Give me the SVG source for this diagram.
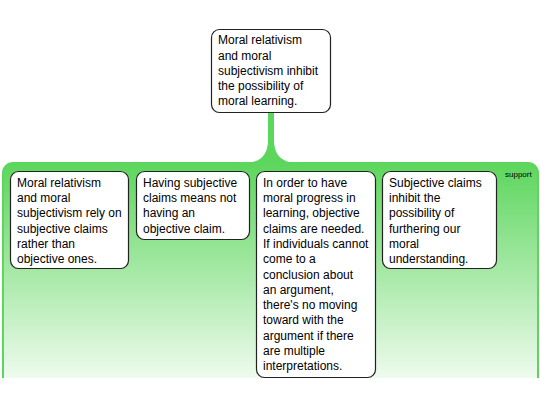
<svg xmlns="http://www.w3.org/2000/svg" width="540" height="405" viewBox="0 0 540 405">
<defs>
<linearGradient id="g" x1="0" y1="0" x2="0" y2="1">
<stop offset="0" stop-color="#5cd65c"/>
<stop offset="1" stop-color="#ffffff"/>
</linearGradient>
<clipPath id="c"><rect x="0" y="0" width="540" height="378"/></clipPath>
<style>
.n{fill:#fff;stroke:#222;stroke-width:1.2}
text{font-family:"Liberation Sans",Arial,sans-serif;font-size:12px;fill:#000}
.s{font-size:8px}
</style>
</defs>
<rect width="540" height="405" fill="#fff"/>
<g id="support-region" clip-path="url(#c)">
<rect x="3" y="163" width="535" height="240" rx="10" fill="url(#g)" stroke="#5cd65c" stroke-width="2"/>
<text class="s" x="505" y="177">support</text>
</g>
<g id="connectors">
<path d="M268,112 L268,140 Q268,162 246,163 L296,163 Q274,162 274,140 L274,112 Z" fill="#5cd65c"/>
</g>
<g id="root">
<rect class="n" x="211.5" y="29.5" width="119" height="83" rx="8"/>
<text x="218" y="44.2">Moral relativism</text>
<text x="218" y="59.5">and moral</text>
<text x="218" y="74.8">subjectivism inhibit</text>
<text x="218" y="90.1">the possibility of</text>
<text x="218" y="105.4">moral learning.</text>
</g>
<g id="child1">
<rect class="n" x="10.5" y="171.5" width="118" height="97" rx="8"/>
<text x="17" y="186.7">Moral relativism</text>
<text x="17" y="202">and moral</text>
<text x="17" y="217.3">subjectivism rely on</text>
<text x="17" y="232.6">subjective claims</text>
<text x="17" y="247.9">rather than</text>
<text x="17" y="263.2">objective ones.</text>
</g>
<g id="child2">
<rect class="n" x="136.5" y="171.5" width="113" height="68" rx="8"/>
<text x="143" y="186.7">Having subjective</text>
<text x="143" y="202">claims means not</text>
<text x="143" y="217.3">having an</text>
<text x="143" y="232.6">objective claim.</text>
</g>
<g id="child3">
<rect class="n" x="256.5" y="171.5" width="119" height="206" rx="8"/>
<text x="263" y="186.7">In order to have</text>
<text x="263" y="202">moral progress in</text>
<text x="263" y="217.3">learning, objective</text>
<text x="263" y="232.6">claims are needed.</text>
<text x="263" y="247.9">If individuals cannot</text>
<text x="263" y="263.2">come to a</text>
<text x="263" y="278.5">conclusion about</text>
<text x="263" y="293.8">an argument,</text>
<text x="263" y="309.1">there's no moving</text>
<text x="263" y="324.4">toward with the</text>
<text x="263" y="339.7">argument if there</text>
<text x="263" y="355">are multiple</text>
<text x="263" y="370.3">interpretations.</text>
</g>
<g id="child4">
<rect class="n" x="382.5" y="171.5" width="114" height="97" rx="8"/>
<text x="389" y="186.7">Subjective claims</text>
<text x="389" y="202">inhibit the</text>
<text x="389" y="217.3">possibility of</text>
<text x="389" y="232.6">furthering our</text>
<text x="389" y="247.9">moral</text>
<text x="389" y="263.2">understanding.</text>
</g>
</svg>
